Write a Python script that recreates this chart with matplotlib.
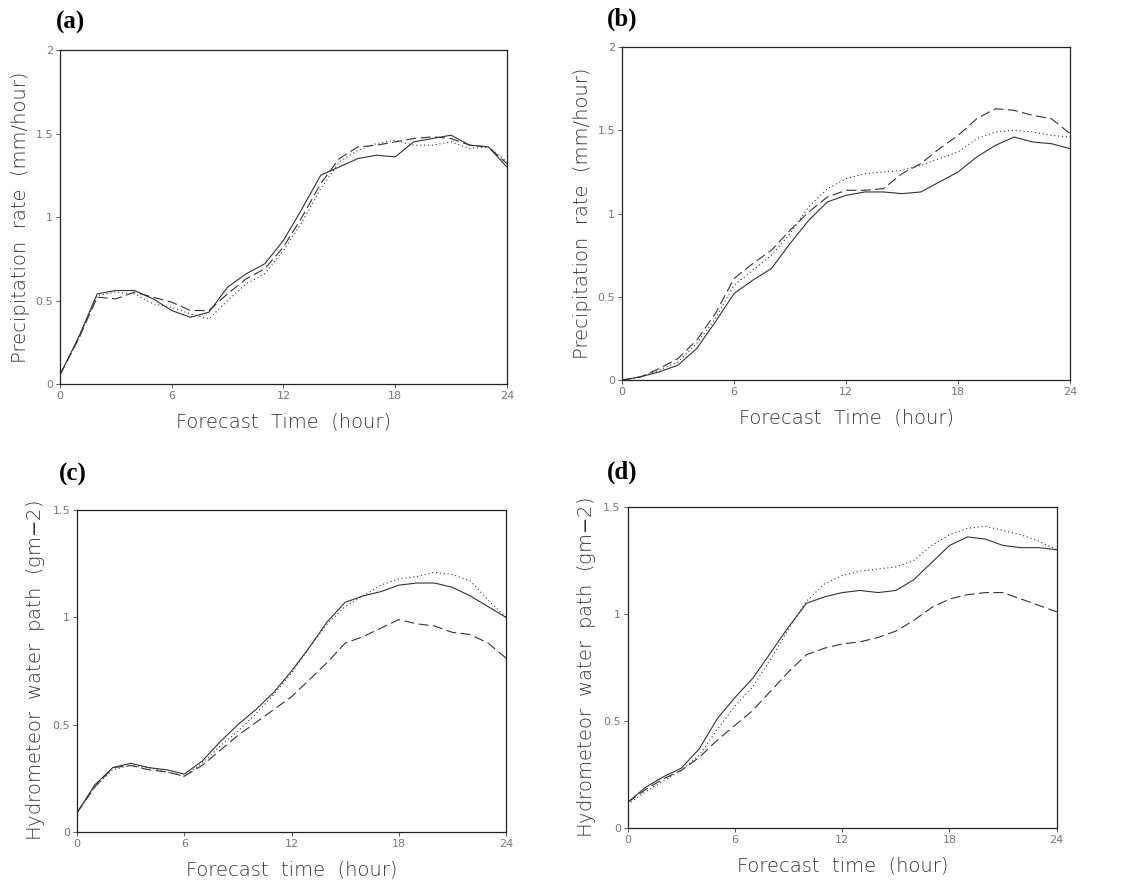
import matplotlib.pyplot as plt
import numpy as np

hours = np.arange(0, 25)

# (a) precipitation rate
a_solid = [0.055, 0.28, 0.54, 0.56, 0.56, 0.51, 0.44, 0.40, 0.43, 0.58, 0.66, 0.72, 0.86,
           1.05, 1.25, 1.30, 1.35, 1.37, 1.36, 1.45, 1.47, 1.49, 1.43, 1.42, 1.30]
a_dash = [0.055, 0.27, 0.52, 0.51, 0.55, 0.52, 0.49, 0.44, 0.44, 0.54, 0.63, 0.69, 0.82,
          1.00, 1.20, 1.35, 1.42, 1.43, 1.45, 1.47, 1.48, 1.47, 1.43, 1.42, 1.32]
a_dot = [0.055, 0.27, 0.53, 0.55, 0.54, 0.48, 0.46, 0.42, 0.39, 0.50, 0.60, 0.66, 0.80,
         0.97, 1.17, 1.33, 1.40, 1.44, 1.46, 1.43, 1.43, 1.45, 1.41, 1.42, 1.33]

# (b) precipitation rate
b_solid = [0.0, 0.02, 0.05, 0.09, 0.19, 0.35, 0.52, 0.60, 0.67, 0.82, 0.96, 1.07, 1.11,
           1.13, 1.13, 1.12, 1.13, 1.19, 1.25, 1.34, 1.41, 1.46, 1.43, 1.42, 1.39]
b_dash = [0.0, 0.02, 0.07, 0.13, 0.24, 0.40, 0.61, 0.70, 0.78, 0.90, 1.01, 1.10, 1.14,
          1.14, 1.15, 1.24, 1.30, 1.39, 1.47, 1.57, 1.63, 1.62, 1.59, 1.57, 1.48]
b_dot = [0.0, 0.02, 0.06, 0.11, 0.22, 0.37, 0.57, 0.66, 0.75, 0.88, 1.04, 1.15, 1.21,
         1.24, 1.25, 1.26, 1.29, 1.33, 1.37, 1.45, 1.49, 1.50, 1.49, 1.47, 1.46]

# (c) hydrometeor water path
c_solid = [0.09, 0.22, 0.30, 0.32, 0.30, 0.29, 0.27, 0.33, 0.42, 0.50, 0.57, 0.65, 0.75,
           0.86, 0.98, 1.07, 1.10, 1.12, 1.15, 1.16, 1.16, 1.14, 1.10, 1.05, 1.00]
c_dash = [0.09, 0.21, 0.30, 0.31, 0.29, 0.28, 0.26, 0.31, 0.38, 0.45, 0.51, 0.57, 0.63,
          0.71, 0.79, 0.88, 0.91, 0.95, 0.99, 0.97, 0.96, 0.93, 0.92, 0.88, 0.81]
c_dot = [0.09, 0.21, 0.29, 0.31, 0.30, 0.28, 0.26, 0.32, 0.40, 0.47, 0.55, 0.64, 0.74,
         0.86, 0.97, 1.05, 1.10, 1.15, 1.18, 1.19, 1.21, 1.20, 1.17, 1.08, 1.00]

# (d) hydrometeor water path
d_solid = [0.12, 0.19, 0.24, 0.28, 0.37, 0.51, 0.61, 0.70, 0.82, 0.94, 1.05, 1.08, 1.10,
           1.11, 1.10, 1.11, 1.16, 1.24, 1.32, 1.36, 1.35, 1.32, 1.31, 1.31, 1.30]
d_dash = [0.12, 0.18, 0.23, 0.27, 0.33, 0.41, 0.48, 0.55, 0.64, 0.73, 0.81, 0.84, 0.86,
          0.87, 0.89, 0.92, 0.97, 1.03, 1.07, 1.09, 1.10, 1.10, 1.07, 1.04, 1.01]
d_dot = [0.11, 0.17, 0.22, 0.27, 0.34, 0.46, 0.57, 0.66, 0.79, 0.93, 1.06, 1.14, 1.18,
         1.20, 1.21, 1.22, 1.25, 1.32, 1.37, 1.40, 1.41, 1.39, 1.37, 1.34, 1.30]

xticks = [0, 6, 12, 18, 24]
panels = [
    ('(a)', [0.0534, 0.5646, 0.398, 0.3787], (a_solid, a_dash, a_dot), 2.0, [0, 0.5, 1, 1.5, 2],
     ['0', '0.5', '1', '1.5', '2'], 'Precipitation  rate  (mm/hour)', 'Forecast  Time  (hour)', (0.050, 0.975)),
    ('(b)', [0.5539, 0.569, 0.399, 0.3776], (b_solid, b_dash, b_dot), 2.0, [0, 0.5, 1, 1.5, 2],
     ['0', '0.5', '1', '1.5', '2'], 'Precipitation  rate  (mm/hour)', 'Forecast  Time  (hour)', (0.540, 0.978)),
    ('(c)', [0.0686, 0.0567, 0.382, 0.365], (c_solid, c_dash, c_dot), 1.5, [0, 0.5, 1, 1.5],
     ['0', '0.5', '1', '1.5'], 'Hydrometeor  water  path  (gm$-$2)', 'Forecast  time  (hour)', (0.052, 0.462)),
    ('(d)', [0.559, 0.0612, 0.382, 0.364], (d_solid, d_dash, d_dot), 1.5, [0, 0.5, 1, 1.5],
     ['0', '0.5', '1', '1.5'], 'Hydrometeor  water  path  (gm$-$2)', 'Forecast  time  (hour)', (0.540, 0.465)),
]

fig = plt.figure(figsize=(11.23, 8.82), dpi=100)
lc = '#333333'
for tag, rect, (s, d, o), ymax, yt, ytl, ylab, xlab, tpos in panels:
    ax = fig.add_axes(rect)
    ax.plot(hours, s, color=lc, lw=0.8, ls='-')
    ax.plot(hours, d, color=lc, lw=0.8, dashes=(9, 4))
    ax.plot(hours, o, color=lc, lw=0.8, dashes=(1, 2.5))
    ax.set_xlim(0, 24)
    ax.set_ylim(0, ymax)
    ax.set_xticks(xticks)
    ax.set_yticks(yt)
    ax.set_yticklabels(ytl)
    ax.tick_params(direction='out', length=3, width=0.6, labelsize=8, labelcolor='#777777', color='#444444', pad=2)
    for sp in ax.spines.values():
        sp.set_linewidth(0.9)
        sp.set_color('#222222')
    ax.set_ylabel(ylab, fontsize=14, family='DejaVu Sans', fontweight='light', color='#333333', labelpad=4)
    ax.set_xlabel(xlab, fontsize=14, family='DejaVu Sans', fontweight='light', color='#333333', labelpad=8)
    fig.text(tpos[0], tpos[1], tag, fontsize=18, family='Liberation Serif', fontweight='bold', ha='left', va='center')

plt.savefig('out.png', dpi=100)
